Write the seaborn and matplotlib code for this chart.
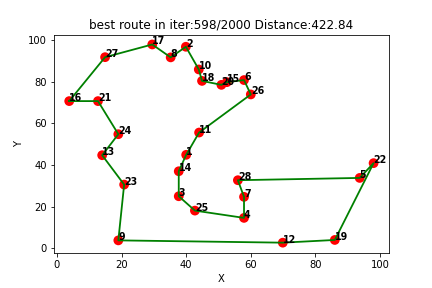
import matplotlib
matplotlib.use("Agg")
import matplotlib.pyplot as plt
import seaborn as sns
import pandas as pd

city_ids = list(range(1, 29))
city_x = [40.0, 39.9, 37.7, 57.9, 93.7, 57.9, 57.9, 35.2, 19.0, 43.9,
          44.0, 69.9, 14.0, 37.7, 52.6, 3.8, 29.5, 44.9, 86.0, 50.9,
          12.7, 98.0, 20.8, 19.0, 42.7, 60.0, 14.9, 56.0]
city_y = [44.9, 96.8, 25.0, 14.6, 33.8, 80.8, 24.7, 91.7, 3.8, 85.9,
          55.6, 2.7, 44.7, 37.0, 79.8, 70.7, 97.9, 80.4, 4.0, 78.5,
          70.7, 40.9, 30.6, 54.8, 18.1, 73.9, 91.8, 32.7]
route = [16, 21, 24, 13, 23, 9, 12, 19, 22, 5, 28, 7, 4, 25, 3, 14, 1, 11,
         26, 6, 15, 20, 18, 10, 2, 8, 17, 27, 16]
title = "best route in iter:598/2000 Distance:422.84"

cities = pd.DataFrame({"id": city_ids, "X": city_x, "Y": city_y})
pos = cities.set_index("id")
route_df = pd.DataFrame({"order": range(len(route)),
                         "X": [pos.loc[c, "X"] for c in route],
                         "Y": [pos.loc[c, "Y"] for c in route]})

fig, ax = plt.subplots(figsize=(6, 4), dpi=72)
fig.subplots_adjust(left=0.125, right=0.9, top=0.88, bottom=0.123)
sns.scatterplot(data=cities, x="X", y="Y", color="red", s=95,
                edgecolor="none", ax=ax, zorder=2)
sns.lineplot(data=route_df, x="X", y="Y", sort=False, estimator=None,
             color="green", linewidth=1.8, ax=ax, zorder=3)
for cid, cx, cy in zip(city_ids, city_x, city_y):
    ax.text(cx, cy, str(cid), fontsize=9.5, fontweight="bold", color="black",
            zorder=4)
ax.set_title(title, fontsize=12)
ax.set_xlabel("X")
ax.set_ylabel("Y")
fig.savefig("out.png", dpi=72)
